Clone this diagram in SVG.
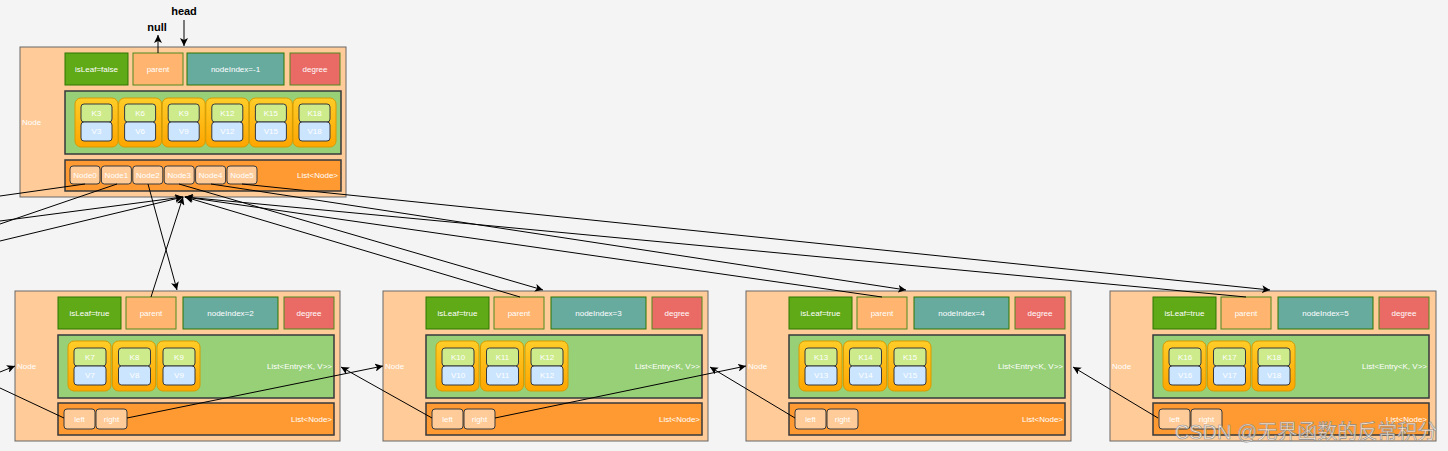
<svg xmlns="http://www.w3.org/2000/svg" width="1448" height="451" viewBox="0 0 1448 451">
<style>
text{font-family:"Liberation Sans",Arial,sans-serif;font-size:8px;fill:#ffffff}
.c{text-anchor:middle;dominant-baseline:central}
.r{text-anchor:end;dominant-baseline:central}
.l{dominant-baseline:central}
.outer{fill:#FFCC99;stroke:#666666;stroke-width:1}
.leaf{fill:#60A917;stroke:#2D7600;stroke-width:1}
.par{fill:#FFB570;stroke:#4E8A1E;stroke-width:1}
.idx{fill:#67AB9F;stroke:#2D7600;stroke-width:1}
.deg{fill:#EA6B66;stroke:#4E8A1E;stroke-width:1}
.ent{fill:#97D077;stroke:#36393D;stroke-width:1.5}
.lst{fill:#FF9A33;stroke:#36393D;stroke-width:1.5}
.yel{fill:url(#yg);stroke:#D79B00;stroke-width:1}
.k{fill:#CDEB8B;stroke:#36393D;stroke-width:1}
.v{fill:#CCE5FF;stroke:#36393D;stroke-width:1}
.it{fill:#FFCC99;stroke:#36393D;stroke-width:1}
.ln{fill:none;stroke:#000000;stroke-width:1}
.a{marker-end:url(#arr)}
.big{font-size:11px;font-weight:bold;fill:#000000}
</style>
<defs>
<linearGradient id="yg" x1="0" y1="0" x2="0" y2="1">
<stop offset="0" stop-color="#FFCD28"/>
<stop offset="1" stop-color="#FFA500"/>
</linearGradient>
<marker id="arr" markerUnits="userSpaceOnUse" markerWidth="9" markerHeight="8" refX="8" refY="4" orient="auto">
<path d="M0,0 L8,4 L0,8 L2,4 Z" fill="#000000"/>
</marker>
</defs>
<rect x="0" y="0" width="1448" height="451" fill="#F4F4F4"/>

<g id="top-node" transform="translate(20,47)">
<rect class="outer" x="0" y="0" width="326" height="150"/>
<text class="l" x="2" y="75">Node</text>
<rect class="leaf" x="45" y="6" width="63" height="32"/><text class="c" x="76.5" y="22">isLeaf=false</text>
<rect class="par" x="113" y="6" width="50" height="32"/><text class="c" x="138" y="22">parent</text>
<rect class="idx" x="167" y="6" width="97" height="32"/><text class="c" x="215.5" y="22">nodeIndex=-1</text>
<rect class="deg" x="270" y="6" width="50" height="32"/><text class="c" x="295" y="22">degree</text>
<rect class="ent" x="45" y="44" width="276" height="63"/>
<g>
<rect class="yel" x="55" y="51" width="43" height="49" rx="6"/><rect class="k" x="61" y="57" width="31" height="18" rx="3"/><rect class="v" x="61" y="75" width="31" height="19" rx="3"/><text class="c" x="76.5" y="66">K3</text><text class="c" x="76.5" y="84.5">V3</text>
<rect class="yel" x="98.6" y="51" width="43" height="49" rx="6"/><rect class="k" x="104.6" y="57" width="31" height="18" rx="3"/><rect class="v" x="104.6" y="75" width="31" height="19" rx="3"/><text class="c" x="120.1" y="66">K6</text><text class="c" x="120.1" y="84.5">V6</text>
<rect class="yel" x="142.2" y="51" width="43" height="49" rx="6"/><rect class="k" x="148.2" y="57" width="31" height="18" rx="3"/><rect class="v" x="148.2" y="75" width="31" height="19" rx="3"/><text class="c" x="163.7" y="66">K9</text><text class="c" x="163.7" y="84.5">V9</text>
<rect class="yel" x="185.8" y="51" width="43" height="49" rx="6"/><rect class="k" x="191.8" y="57" width="31" height="18" rx="3"/><rect class="v" x="191.8" y="75" width="31" height="19" rx="3"/><text class="c" x="207.3" y="66">K12</text><text class="c" x="207.3" y="84.5">V12</text>
<rect class="yel" x="229.4" y="51" width="43" height="49" rx="6"/><rect class="k" x="235.4" y="57" width="31" height="18" rx="3"/><rect class="v" x="235.4" y="75" width="31" height="19" rx="3"/><text class="c" x="250.9" y="66">K15</text><text class="c" x="250.9" y="84.5">V15</text>
<rect class="yel" x="273" y="51" width="43" height="49" rx="6"/><rect class="k" x="279" y="57" width="31" height="18" rx="3"/><rect class="v" x="279" y="75" width="31" height="19" rx="3"/><text class="c" x="294.5" y="66">K18</text><text class="c" x="294.5" y="84.5">V18</text>
</g>
<rect class="lst" x="45" y="113" width="276" height="31"/>
<rect class="it" x="50" y="119" width="30" height="18" rx="3"/><text class="c" x="65" y="128">Node0</text>
<rect class="it" x="81.4" y="119" width="30" height="18" rx="3"/><text class="c" x="96.4" y="128">Node1</text>
<rect class="it" x="112.8" y="119" width="30" height="18" rx="3"/><text class="c" x="127.8" y="128">Node2</text>
<rect class="it" x="144.2" y="119" width="30" height="18" rx="3"/><text class="c" x="159.2" y="128">Node3</text>
<rect class="it" x="175.6" y="119" width="30" height="18" rx="3"/><text class="c" x="190.6" y="128">Node4</text>
<rect class="it" x="207" y="119" width="30" height="18" rx="3"/><text class="c" x="222" y="128">Node5</text>
<text class="r" x="318" y="128">List&lt;Node&gt;</text>
</g>

<g id="node-2" transform="translate(15,291)">
<rect class="outer" x="0" y="0" width="325" height="150"/>
<text class="l" x="2" y="75">Node</text>
<rect class="leaf" x="43" y="6" width="63" height="32"/><text class="c" x="74.5" y="22">isLeaf=true</text>
<rect class="par" x="111" y="6" width="50" height="32"/><text class="c" x="136" y="22">parent</text>
<rect class="idx" x="168" y="6" width="95" height="32"/><text class="c" x="215.5" y="22">nodeIndex=2</text>
<rect class="deg" x="269" y="6" width="50" height="32"/><text class="c" x="294" y="22">degree</text>
<rect class="ent" x="43" y="44" width="276" height="63"/>
<rect class="yel" x="53" y="50" width="43" height="50" rx="6"/><rect class="k" x="59" y="57" width="32" height="18" rx="3"/><rect class="v" x="59" y="75" width="32" height="19" rx="3"/><text class="c" x="75" y="66">K7</text><text class="c" x="75" y="84.5">V7</text>
<rect class="yel" x="97.5" y="50" width="43" height="50" rx="6"/><rect class="k" x="103.5" y="57" width="32" height="18" rx="3"/><rect class="v" x="103.5" y="75" width="32" height="19" rx="3"/><text class="c" x="119.5" y="66">K8</text><text class="c" x="119.5" y="84.5">V8</text>
<rect class="yel" x="142" y="50" width="43" height="50" rx="6"/><rect class="k" x="148" y="57" width="32" height="18" rx="3"/><rect class="v" x="148" y="75" width="32" height="19" rx="3"/><text class="c" x="164" y="66">K9</text><text class="c" x="164" y="84.5">V9</text>
<text class="r" x="317" y="75">List&lt;Entry&lt;K, V&gt;&gt;</text>
<rect class="lst" x="43" y="112" width="276" height="32"/>
<rect class="it" x="49" y="118" width="31" height="20" rx="3"/><text class="c" x="64.5" y="128">left</text>
<rect class="it" x="81" y="118" width="31" height="20" rx="3"/><text class="c" x="96.5" y="128">right</text>
<text class="r" x="317" y="128">List&lt;Node&gt;</text>
</g>

<g id="node-3" transform="translate(383,291)">
<rect class="outer" x="0" y="0" width="325" height="150"/>
<text class="l" x="2" y="75">Node</text>
<rect class="leaf" x="43" y="6" width="63" height="32"/><text class="c" x="74.5" y="22">isLeaf=true</text>
<rect class="par" x="111" y="6" width="50" height="32"/><text class="c" x="136" y="22">parent</text>
<rect class="idx" x="168" y="6" width="95" height="32"/><text class="c" x="215.5" y="22">nodeIndex=3</text>
<rect class="deg" x="269" y="6" width="50" height="32"/><text class="c" x="294" y="22">degree</text>
<rect class="ent" x="43" y="44" width="276" height="63"/>
<rect class="yel" x="53" y="50" width="43" height="50" rx="6"/><rect class="k" x="59" y="57" width="32" height="18" rx="3"/><rect class="v" x="59" y="75" width="32" height="19" rx="3"/><text class="c" x="75" y="66">K10</text><text class="c" x="75" y="84.5">V10</text>
<rect class="yel" x="97.5" y="50" width="43" height="50" rx="6"/><rect class="k" x="103.5" y="57" width="32" height="18" rx="3"/><rect class="v" x="103.5" y="75" width="32" height="19" rx="3"/><text class="c" x="119.5" y="66">K11</text><text class="c" x="119.5" y="84.5">V11</text>
<rect class="yel" x="142" y="50" width="43" height="50" rx="6"/><rect class="k" x="148" y="57" width="32" height="18" rx="3"/><rect class="v" x="148" y="75" width="32" height="19" rx="3"/><text class="c" x="164" y="66">K12</text><text class="c" x="164" y="84.5">K12</text>
<text class="r" x="317" y="75">List&lt;Entry&lt;K, V&gt;&gt;</text>
<rect class="lst" x="43" y="112" width="276" height="32"/>
<rect class="it" x="49" y="118" width="31" height="20" rx="3"/><text class="c" x="64.5" y="128">left</text>
<rect class="it" x="81" y="118" width="31" height="20" rx="3"/><text class="c" x="96.5" y="128">right</text>
<text class="r" x="317" y="128">List&lt;Node&gt;</text>
</g>

<g id="node-4" transform="translate(746,291)">
<rect class="outer" x="0" y="0" width="325" height="150"/>
<text class="l" x="2" y="75">Node</text>
<rect class="leaf" x="43" y="6" width="63" height="32"/><text class="c" x="74.5" y="22">isLeaf=true</text>
<rect class="par" x="111" y="6" width="50" height="32"/><text class="c" x="136" y="22">parent</text>
<rect class="idx" x="168" y="6" width="95" height="32"/><text class="c" x="215.5" y="22">nodeIndex=4</text>
<rect class="deg" x="269" y="6" width="50" height="32"/><text class="c" x="294" y="22">degree</text>
<rect class="ent" x="43" y="44" width="276" height="63"/>
<rect class="yel" x="53" y="50" width="43" height="50" rx="6"/><rect class="k" x="59" y="57" width="32" height="18" rx="3"/><rect class="v" x="59" y="75" width="32" height="19" rx="3"/><text class="c" x="75" y="66">K13</text><text class="c" x="75" y="84.5">V13</text>
<rect class="yel" x="97.5" y="50" width="43" height="50" rx="6"/><rect class="k" x="103.5" y="57" width="32" height="18" rx="3"/><rect class="v" x="103.5" y="75" width="32" height="19" rx="3"/><text class="c" x="119.5" y="66">K14</text><text class="c" x="119.5" y="84.5">V14</text>
<rect class="yel" x="142" y="50" width="43" height="50" rx="6"/><rect class="k" x="148" y="57" width="32" height="18" rx="3"/><rect class="v" x="148" y="75" width="32" height="19" rx="3"/><text class="c" x="164" y="66">K15</text><text class="c" x="164" y="84.5">V15</text>
<text class="r" x="317" y="75">List&lt;Entry&lt;K, V&gt;&gt;</text>
<rect class="lst" x="43" y="112" width="276" height="32"/>
<rect class="it" x="49" y="118" width="31" height="20" rx="3"/><text class="c" x="64.5" y="128">left</text>
<rect class="it" x="81" y="118" width="31" height="20" rx="3"/><text class="c" x="96.5" y="128">right</text>
<text class="r" x="317" y="128">List&lt;Node&gt;</text>
</g>

<g id="node-5" transform="translate(1110,291)">
<rect class="outer" x="0" y="0" width="326" height="150"/>
<text class="l" x="2" y="75">Node</text>
<rect class="leaf" x="43" y="6" width="63" height="32"/><text class="c" x="74.5" y="22">isLeaf=true</text>
<rect class="par" x="111" y="6" width="50" height="32"/><text class="c" x="136" y="22">parent</text>
<rect class="idx" x="168" y="6" width="95" height="32"/><text class="c" x="215.5" y="22">nodeIndex=5</text>
<rect class="deg" x="269" y="6" width="50" height="32"/><text class="c" x="294" y="22">degree</text>
<rect class="ent" x="43" y="44" width="276" height="63"/>
<rect class="yel" x="53" y="50" width="43" height="50" rx="6"/><rect class="k" x="59" y="57" width="32" height="18" rx="3"/><rect class="v" x="59" y="75" width="32" height="19" rx="3"/><text class="c" x="75" y="66">K16</text><text class="c" x="75" y="84.5">V16</text>
<rect class="yel" x="97.5" y="50" width="43" height="50" rx="6"/><rect class="k" x="103.5" y="57" width="32" height="18" rx="3"/><rect class="v" x="103.5" y="75" width="32" height="19" rx="3"/><text class="c" x="119.5" y="66">K17</text><text class="c" x="119.5" y="84.5">V17</text>
<rect class="yel" x="142" y="50" width="43" height="50" rx="6"/><rect class="k" x="148" y="57" width="32" height="18" rx="3"/><rect class="v" x="148" y="75" width="32" height="19" rx="3"/><text class="c" x="164" y="66">K18</text><text class="c" x="164" y="84.5">V18</text>
<text class="r" x="317" y="75">List&lt;Entry&lt;K, V&gt;&gt;</text>
<rect class="lst" x="43" y="112" width="276" height="32"/>
<rect class="it" x="49" y="118" width="31" height="20" rx="3"/><text class="c" x="64.5" y="128">left</text>
<rect class="it" x="81" y="118" width="31" height="20" rx="3"/><text class="c" x="96.5" y="128">right</text>
<text class="r" x="317" y="128">List&lt;Node&gt;</text>
</g>

<g id="labels">
<text class="big" x="184" y="15" text-anchor="middle">head</text>
<text class="big" x="157" y="31" text-anchor="middle">null</text>
</g>

<g id="connectors">
<line class="ln a" x1="184" y1="20" x2="184" y2="46"/>
<line class="ln a" x1="158" y1="53" x2="158" y2="35"/>
<line class="ln" x1="85" y1="184" x2="0" y2="196"/>
<line class="ln" x1="117" y1="184" x2="0" y2="224"/>
<line class="ln a" x1="0" y1="221" x2="183" y2="197"/>
<line class="ln a" x1="0" y1="241" x2="183" y2="197"/>
<line class="ln a" x1="148" y1="184" x2="177" y2="290"/>
<line class="ln a" x1="151" y1="297" x2="183" y2="197"/>
<line class="ln a" x1="179" y1="184" x2="543" y2="290"/>
<line class="ln a" x1="520" y1="297" x2="185" y2="197"/>
<line class="ln a" x1="211" y1="184" x2="906" y2="290"/>
<line class="ln a" x1="882" y1="297" x2="185" y2="197"/>
<line class="ln a" x1="242" y1="184" x2="1270" y2="290"/>
<line class="ln a" x1="1246" y1="297" x2="185" y2="197"/>
<line class="ln a" x1="0" y1="372" x2="15" y2="366"/>
<line class="ln" x1="64" y1="418" x2="0" y2="388"/>
<line class="ln a" x1="127" y1="418" x2="383" y2="366"/>
<line class="ln a" x1="432" y1="418" x2="341" y2="367"/>
<line class="ln a" x1="495" y1="418" x2="746" y2="366"/>
<line class="ln a" x1="795" y1="418" x2="710" y2="367"/>
<line class="ln a" x1="1158" y1="418" x2="1073" y2="367"/>
</g>

<text x="1306" y="439" text-anchor="middle" style="font-family:'Liberation Sans','Noto Sans CJK SC',sans-serif;font-size:20px;fill:#ffffff;fill-opacity:0.75;stroke:#8a8a8a;stroke-width:0.6">CSDN @无界函数的反常积分</text>
</svg>
